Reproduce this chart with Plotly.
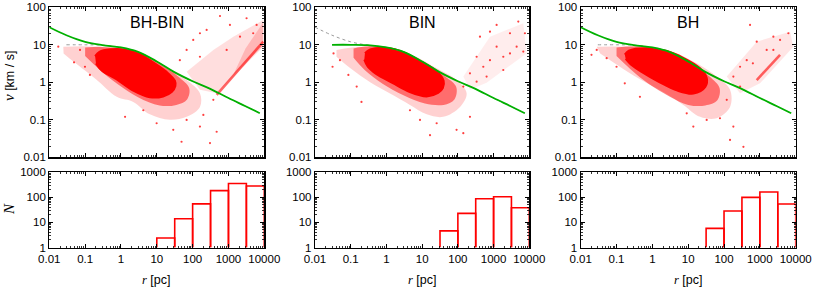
import plotly.graph_objects as go

# ---------------- data ----------------
panel_titles = ["BH-BIN", "BIN", "BH"]

# model curves (r [pc], v [km/s])
curve_bh_r = [0.01, 0.03, 0.1, 0.3, 1, 3, 10, 30, 100, 300, 1000, 3000, 7500]
curve_bh_v = [29.5, 18, 12, 9.8, 8.5, 6.5, 3.6, 1.9, 1.07, 0.68, 0.38, 0.23, 0.15]
curve_bin_r = [0.03, 0.1, 0.3, 1, 3, 10, 30, 100, 300, 1000, 3000, 7500]
curve_bin_v = [10, 10, 9.8, 8.5, 6.5, 3.6, 1.9, 1.07, 0.68, 0.38, 0.23, 0.15]

# dense core of the star cloud (outline)
core1_r = [0.19, 0.25, 0.5, 1.4, 3.4, 8, 18.8, 32, 33, 26, 15, 6.4, 2.2, 0.76, 0.3, 0.2]
core1_v = [5.0, 6.5, 7.6, 7.4, 5.6, 3.4, 1.9, 1.1, 0.8, 0.55, 0.42, 0.40, 0.6, 1.2, 2.0, 3.2]
core2_r = [0.25, 0.35, 1.0, 3, 8.7, 25, 40, 38, 28, 13.4, 4.5, 1.5, 0.5, 0.3, 0.24]
core2_v = [6.0, 7.5, 8.2, 6.4, 3.7, 2.0, 1.1, 0.7, 0.52, 0.42, 0.55, 0.95, 1.7, 2.6, 4.0]
core3_r = [0.17, 0.22, 0.7, 2.5, 7.3, 21, 33, 30, 14, 5, 1.6, 0.5, 0.25, 0.18]
core3_v = [5.5, 7.0, 8.1, 6.8, 4.5, 2.4, 1.3, 0.75, 0.5, 0.6, 1.0, 1.9, 3.0, 4.2]

# medium-density zone around the core (outline)
mid1_r = [0.1, 0.3, 1.5, 5, 15, 40, 80, 70, 35, 12, 3, 0.8, 0.25, 0.1]
mid1_v = [8.5, 8.8, 7.8, 5.2, 2.8, 1.4, 0.7, 0.35, 0.25, 0.24, 0.4, 0.9, 2.2, 5.0]
mid2_r = [0.12, 0.3, 1.5, 5, 15, 45, 90, 80, 40, 12, 3, 0.8, 0.25, 0.12]
mid2_v = [8.0, 9.2, 8.2, 5.3, 2.8, 1.4, 0.75, 0.35, 0.25, 0.27, 0.45, 0.9, 2.1, 4.5]
mid3_r = [0.1, 0.3, 1.5, 5, 15, 40, 75, 65, 30, 10, 3, 0.8, 0.25, 0.1]
mid3_v = [8.5, 9.2, 8.0, 5.0, 2.7, 1.4, 0.7, 0.33, 0.24, 0.25, 0.42, 0.9, 2.2, 5.0]

# sparse halo around the core (outline)
halo1_r = [0.0246, 0.21, 3.4, 18.8, 68, 160, 160, 68, 23, 6.4, 2.2, 0.76, 0.2, 0.05, 0.025]
halo1_v = [8.9, 8.9, 5.9, 2.36, 1.15, 0.51, 0.22, 0.12, 0.1, 0.14, 0.3, 0.41, 1.2, 3.4, 5.9]
halo2_r = [0.04, 0.225, 3.0, 25.5, 92, 176, 115, 39, 13.4, 4.56, 1.26, 0.35, 0.096, 0.04]
halo2_v = [7.3, 8.9, 6.6, 2.36, 1.15, 0.51, 0.22, 0.12, 0.14, 0.25, 0.5, 1.0, 2.4, 4.8]
halo3_r = [0.028, 0.19, 2.5, 17.3, 62, 147, 147, 62, 21.4, 7.3, 2.03, 0.45, 0.1, 0.035]
halo3_v = [8.9, 8.9, 7.3, 3.2, 1.42, 0.63, 0.22, 0.11, 0.12, 0.25, 0.55, 1.2, 3.0, 5.9]

# escaping stars at large r (outline of the wedge)
esc1_r = [68, 378, 1365, 9380, 9380, 1365, 468, 160]
esc1_v = [1.92, 7.3, 16.5, 46, 8.9, 1.42, 0.51, 0.63]
esc1b_r = [1365, 3000, 9380, 9380]
esc1b_v = [1.6, 8.0, 40, 9.5]
esc2_r = [142, 792, 6790, 8400, 638, 218]
esc2_v = [1.42, 16.5, 37.5, 5.9, 0.97, 0.63]
esc3_r = [119, 817, 6950, 8600, 1010, 280]
esc3_v = [1.42, 12.1, 22.4, 8.9, 0.94, 0.51]

# dense streak along the lower edge of the escaping wedge
streak1_r = [468, 9380]
streak1_v = [0.46, 12.1]
streak3_r = [817, 3660]
streak3_v = [1.15, 5.4]

# isolated stars
pts1_r = [0.0178, 0.049, 0.072, 0.099, 0.136, 1.3, 9.9, 28.8, 49, 160, 305, 468, 68, 199, 378, 4.2,
          580, 160, 68, 104, 246, 1100, 3200, 6100, 2100, 4900, 44, 160, 890]
pts1_v = [8.9, 3.4, 7.3, 2.6, 1.57, 0.12, 0.081, 0.054, 0.026, 0.066, 0.024, 0.048, 0.099, 0.135, 0.34, 0.18,
          58.7, 20.3, 7.3, 13.5, 24.9, 33.8, 51, 33.8, 16.5, 20.3, 3.9, 4.8, 7.3]
pts2_r = [0.033, 0.031, 0.05, 0.086, 0.147, 0.2, 16.6, 92, 142, 218, 25.5, 8.7, 4.56,
          1216, 792, 2877, 4920, 7550, 335, 515, 792, 1870, 2877, 4420, 6790, 1216, 218, 638, 1870, 416, 142, 335]
pts2_v = [5.9, 2.6, 3.9, 1.57, 0.77, 0.3, 0.039, 0.054, 0.044, 0.12, 0.081, 0.099, 0.18,
          33.8, 22.4, 20.3, 41.5, 20.3, 4.8, 2.6, 3.9, 4.8, 5.9, 8.9, 6.6, 8.9, 1.74, 1.42, 2.13, 16.5, 0.77, 1.04]
pts3_r = [532, 817, 2380, 3660, 6240, 1550, 280, 430, 182, 638, 2380, 280, 119, 182, 147, 347, 77, 13.9, 32.8, 9.1,
          0.020, 0.028, 0.053, 0.1, 0.17, 0.45]
pts3_v = [33.8, 12.1, 16.5, 13.5, 20.3, 7.3, 2.6, 3.9, 1.42, 3.2, 7.3, 0.77, 0.34, 0.066, 0.029, 0.019, 0.11, 0.066, 0.099, 0.149,
          5.4, 7.3, 4.4, 2.6, 0.94, 0.41]

# histograms of N(r), half-decade bins
hist_edges = [10, 31.6, 100, 316, 1000, 3162, 10000]
hist1_n = [2.4, 14, 55, 185, 355, 285]
hist2_n = [0, 4.6, 23, 88, 106, 38.5]
hist3_n = [0, 5.8, 28.5, 100, 163, 54]

# tick labels
x_tickvals = [0.01, 0.1, 1, 10, 100, 1000, 10000]
x_ticktext = ["0.01", "0.1", "1", "10", "100", "1000", "10000"]
v_tickvals = [0.01, 0.1, 1, 10, 100]
v_ticktext = ["0.01", "0.1", "1", "10", "100"]
n_tickvals = [1, 10, 100, 1000]
n_ticktext = ["1", "10", "100", "1000"]

# ---------------- layout geometry (pixels) ----------------
W, H = 814, 293
col_px = [(49.3, 264.3), (315.0, 529.3), (580.7, 795.7)]
top_px = (7.3, 157.3)
bot_px = (172.3, 247.5)


def xd(a, b):
    return [a / W, b / W]


def yd(a, b):
    return [1 - b / H, 1 - a / H]


SANS = "Liberation Sans, Arial, Helvetica, sans-serif"
SERIF = "Liberation Serif, Times New Roman, serif"
RED = "#ff0000"
GREEN = "#00b000"

fig = go.Figure()

cores = [(core1_r, core1_v), (core2_r, core2_v), (core3_r, core3_v)]
mids = [(mid1_r, mid1_v), (mid2_r, mid2_v), (mid3_r, mid3_v)]
halos = [(halo1_r, halo1_v), (halo2_r, halo2_v), (halo3_r, halo3_v)]
escs = [(esc1_r, esc1_v), (esc2_r, esc2_v), (esc3_r, esc3_v)]
esc_alpha = [0.13, 0.07, 0.1]
escs_dense = [(esc1b_r, esc1b_v), None, None]
streaks = [(streak1_r, streak1_v), None, (streak3_r, streak3_v)]
pts = [(pts1_r, pts1_v), (pts2_r, pts2_v), (pts3_r, pts3_v)]
greens = [(curve_bh_r, curve_bh_v), (curve_bin_r, curve_bin_v), (curve_bh_r, curve_bh_v)]
greys = [(curve_bin_r, curve_bin_v), (curve_bh_r, curve_bh_v), (curve_bin_r, curve_bin_v)]
hists = [hist1_n, hist2_n, hist3_n]


def poly(xs, ys, xa, ya, color, spline=False):
    return go.Scatter(x=xs, y=ys, xaxis=xa, yaxis=ya, mode="lines", fill="toself",
                      fillcolor=color, line=dict(width=0, shape="spline" if spline else "linear"),
                      hoverinfo="skip")


for i in range(3):
    xt, yt = f"x{2*i+1}", f"y{2*i+1}"
    xb, yb = f"x{2*i+2}", f"y{2*i+2}"
    er, ev = escs[i]
    fig.add_trace(poly(er, ev, xt, yt, f"rgba(255,0,0,{esc_alpha[i]})"))
    if escs_dense[i] is not None:
        dr, dv = escs_dense[i]
        fig.add_trace(poly(dr, dv, xt, yt, "rgba(255,0,0,0.18)"))
    if streaks[i] is not None:
        sr, sv = streaks[i]
        fig.add_trace(go.Scatter(x=sr, y=sv, xaxis=xt, yaxis=yt, mode="lines",
                                 line=dict(color="rgba(255,0,0,0.6)", width=2.6), hoverinfo="skip"))
    hr, hv = halos[i]
    fig.add_trace(poly(hr, hv, xt, yt, "rgba(255,0,0,0.18)", spline=True))
    mr, mv = mids[i]
    fig.add_trace(poly(mr, mv, xt, yt, "rgba(255,0,0,0.48)", spline=True))
    cr, cv = cores[i]
    fig.add_trace(go.Scatter(x=cr, y=cv, xaxis=xt, yaxis=yt, mode="lines", fill="toself",
                             fillcolor=RED, line=dict(color=RED, width=2, shape="spline"),
                             hoverinfo="skip"))
    pr, pv = pts[i]
    fig.add_trace(go.Scatter(x=pr, y=pv, xaxis=xt, yaxis=yt, mode="markers",
                             marker=dict(color="rgba(255,0,0,0.75)", size=2.2), hoverinfo="skip"))
    gr, gv = greys[i]
    fig.add_trace(go.Scatter(x=gr, y=gv, xaxis=xt, yaxis=yt, mode="lines",
                             line=dict(color="#999999", width=1, dash="dot", shape="spline")))
    cr2, cv2 = greens[i]
    fig.add_trace(go.Scatter(x=cr2, y=cv2, xaxis=xt, yaxis=yt, mode="lines",
                             line=dict(color=GREEN, width=1.8, shape="spline")))
    hx, hy = [], []
    for k, n in enumerate(hists[i]):
        if n <= 0:
            continue
        lo, hi = hist_edges[k], hist_edges[k + 1]
        hx += [lo, lo, hi, hi, None]
        hy += [1, n, n, 1, None]
    fig.add_trace(go.Scatter(x=hx, y=hy, xaxis=xb, yaxis=yb, mode="lines",
                             line=dict(color=RED, width=1.6), hoverinfo="skip"))


def axis(domain, rng, anchor, tv, tt, labels=True):
    return dict(type="log", domain=domain, range=rng, anchor=anchor,
                showline=True, linecolor="black", linewidth=1.2, mirror="ticks",
                ticks="inside", ticklen=4, tickwidth=1, tickcolor="black",
                showgrid=False, zeroline=False, tickmode="array", tickvals=tv, ticktext=tt,
                showticklabels=labels, automargin=False,
                tickfont=dict(family=SANS, size=11.5, color="black"),
                minor=dict(ticks="inside", ticklen=2, tickwidth=0.8, tickcolor="black",
                           showgrid=False, dtick="D1"))


layout = dict(width=W, height=H, margin=dict(l=0, r=0, t=0, b=0, pad=0, autoexpand=False),
              autosize=False, paper_bgcolor="white", plot_bgcolor="white", showlegend=False,
              hovermode=False)
annotations = []


def ann(text, xpx, ypx, size, family=SANS, angle=0):
    return dict(text=text, x=xpx / W, y=1 - ypx / H, xref="paper", yref="paper",
                xanchor="center", yanchor="middle", showarrow=False, textangle=angle,
                font=dict(family=family, size=size, color="black"))


for i in range(3):
    a, b = col_px[i]
    n1, n2 = 2 * i + 1, 2 * i + 2
    layout[f"xaxis{n1}"] = axis(xd(a, b), [-2, 4], f"y{n1}", x_tickvals, x_ticktext, labels=False)
    layout[f"yaxis{n1}"] = axis(yd(*top_px), [-2, 2], f"x{n1}", v_tickvals, v_ticktext)
    layout[f"xaxis{n2}"] = axis(xd(a, b), [-2, 4], f"y{n2}", x_tickvals, x_ticktext)
    layout[f"yaxis{n2}"] = axis(yd(*bot_px), [0, 3], f"x{n2}", n_tickvals, n_ticktext)
    cxp = (a + b) / 2
    annotations.append(ann(panel_titles[i], cxp, 22.5, 16))
    annotations.append(ann(f"<i style='font-family:{SERIF}'>r</i> [pc]", cxp, 280, 12.5))
annotations.append(ann(f"<i style='font-family:{SERIF};font-size:15px'>v</i> [km / s]", 9, 76, 12.5,
                       angle=-90))
annotations.append(ann("<i>N</i>", 9, 209, 15, family=SERIF, angle=-90))
layout["annotations"] = annotations
fig.update_layout(**layout)
fig.write_html("out.html", config={"displayModeBar": False, "staticPlot": True},
               post_script="document.body.style.margin='0px';document.body.style.overflow='hidden';")
